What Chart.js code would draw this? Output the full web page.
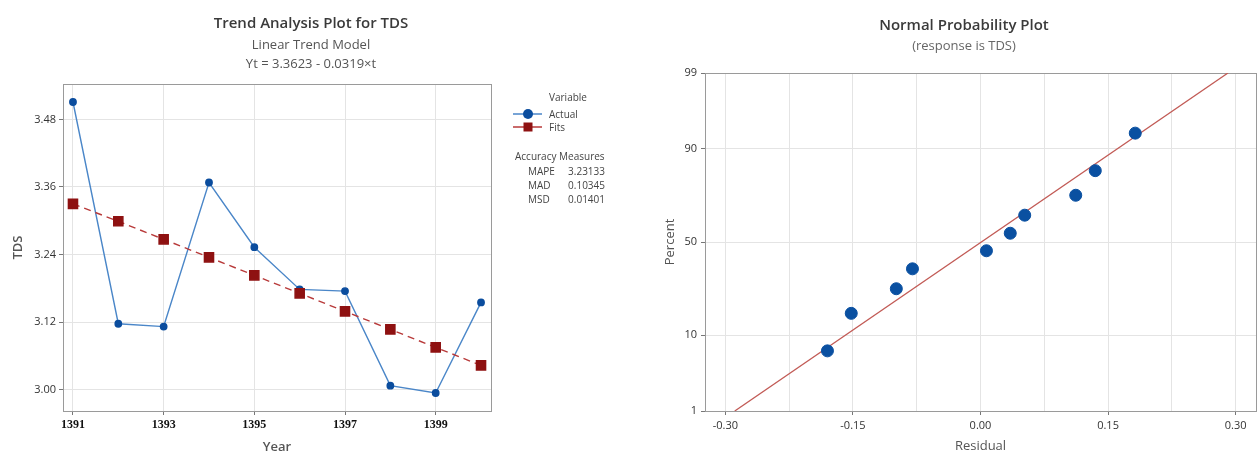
<!DOCTYPE html>
<html>
<head>
<meta charset="utf-8">
<script src="https://cdn.jsdelivr.net/npm/chart.js@4.4.1/dist/chart.umd.min.js"></script>
<style>
  html, body { margin: 0; padding: 0; background: #fff; overflow: hidden; }
  #wrap { position: relative; width: 1259px; height: 456px; overflow: hidden; }
  #trend { position: absolute; left: 0; top: 0; }
  #prob { position: absolute; left: 640px; top: 0; }
</style>
</head>
<body>
<div id="wrap">
  <canvas id="trend" width="640" height="456"></canvas>
  <canvas id="prob" width="623" height="456"></canvas>
</div>
<script>
// ---- data ----
const years = [1391, 1392, 1393, 1394, 1395, 1396, 1397, 1398, 1399, 1400];
const tdsActual = [3.511, 3.117, 3.112, 3.368, 3.253, 3.178, 3.175, 3.007, 2.994, 3.155];
const tdsFits = [3.330, 3.299, 3.267, 3.235, 3.203, 3.171, 3.139, 3.107, 3.075, 3.043];
const yearTicks = [1391, 1393, 1395, 1397, 1399];
const tdsTicks = [3.00, 3.12, 3.24, 3.36, 3.48];
const accuracyNames = ['MAPE', 'MAD', 'MSD'];
const accuracyValues = ['3.23133', '0.10345', '0.01401'];

const residuals = [-0.180, -0.152, -0.099, -0.080, 0.007, 0.035, 0.052, 0.112, 0.135, 0.182];
const percents = [6.7, 16.3, 26.0, 35.6, 45.2, 54.8, 64.4, 74.0, 83.7, 93.3];
const fitResiduals = [-0.289, 0.291];
const fitPercents = [1, 99];
const residualTicks = [-0.30, -0.225, -0.15, -0.075, 0.00, 0.075, 0.15, 0.225, 0.30];
const residualLabels = [-0.30, -0.15, 0.00, 0.15, 0.30];
const percentTicks = [1, 10, 50, 90, 99];

const FONT = '"Open Sans", "Noto Sans", sans-serif';
Chart.defaults.font.family = FONT;
Chart.defaults.color = '#333';

// inverse normal cdf (Acklam) for the probability axis
function normInv(p) {
  const a = [-3.969683028665376e+01, 2.209460984245205e+02, -2.759285104469687e+02, 1.383577518672690e+02, -3.066479806614716e+01, 2.506628277459239e+00];
  const b = [-5.447609879822406e+01, 1.615858368580409e+02, -1.556989798598866e+02, 6.680131188771972e+01, -1.328068155288572e+01];
  const c = [-7.784894002430293e-03, -3.223964580411365e-01, -2.400758277161838e+00, -2.549732539343734e+00, 4.374664141464968e+00, 2.938163982698783e+00];
  const d = [7.784695709041462e-03, 3.224671290700398e-01, 2.445134137142996e+00, 3.754408661907416e+00];
  const pl = 0.02425;
  let q, r;
  if (p < pl) {
    q = Math.sqrt(-2 * Math.log(p));
    return (((((c[0]*q+c[1])*q+c[2])*q+c[3])*q+c[4])*q+c[5]) / ((((d[0]*q+d[1])*q+d[2])*q+d[3])*q+1);
  }
  if (p > 1 - pl) {
    q = Math.sqrt(-2 * Math.log(1 - p));
    return -(((((c[0]*q+c[1])*q+c[2])*q+c[3])*q+c[4])*q+c[5]) / ((((d[0]*q+d[1])*q+d[2])*q+d[3])*q+1);
  }
  q = p - 0.5; r = q * q;
  return (((((a[0]*r+a[1])*r+a[2])*r+a[3])*r+a[4])*r+a[5])*q / (((((b[0]*r+b[1])*r+b[2])*r+b[3])*r+b[4])*r+1);
}
function normCdf(z) {
  const t = 1 / (1 + 0.2316419 * Math.abs(z));
  const y = 0.3989423 * Math.exp(-z * z / 2) * t * (0.3193815 + t * (-0.3565638 + t * (1.781478 + t * (-1.821256 + t * 1.330274))));
  return z > 0 ? 1 - y : y;
}

class ProbabilityScale extends Chart.LinearScale {
  static id = 'probability';
  determineDataLimits() {
    this.min = this.options.min;
    this.max = this.options.max;
  }
  buildTicks() {
    return percentTicks.map(v => ({ value: v }));
  }
  getPixelForValue(value) {
    const z0 = normInv(this.min / 100), z1 = normInv(this.max / 100);
    return this.getPixelForDecimal((normInv(value / 100) - z0) / (z1 - z0));
  }
  getValueForPixel(pixel) {
    const z0 = normInv(this.min / 100), z1 = normInv(this.max / 100);
    return 100 * normCdf(z0 + this.getDecimalForPixel(pixel) * (z1 - z0));
  }
}
Chart.register(ProbabilityScale);

// titles drawn above each panel
function headings(x, lines) {
  return {
    id: 'headings',
    afterDraw(chart) {
      const ctx = chart.ctx;
      ctx.save();
      ctx.textAlign = 'center';
      ctx.textBaseline = 'middle';
      lines.forEach(l => {
        ctx.font = l.font;
        ctx.fillStyle = l.color;
        ctx.fillText(l.text, x, l.y);
      });
      ctx.restore();
    }
  };
}

// box round the plot area
const frame = {
  id: 'frame',
  beforeDatasetsDraw(chart) {
    const { ctx, chartArea: a } = chart;
    ctx.save();
    ctx.strokeStyle = '#9a9a9a';
    ctx.lineWidth = 1;
    ctx.strokeRect(Math.round(a.left) + 0.5, Math.round(a.top) + 0.5,
      Math.round(a.right - a.left), Math.round(a.bottom - a.top));
    ctx.restore();
  }
};

// Minitab style legend with accuracy measures
const trendLegend = {
  id: 'trendLegend',
  afterDraw(chart) {
    const ctx = chart.ctx;
    const sets = chart.data.datasets;
    ctx.save();
    ctx.textBaseline = 'middle';
    ctx.textAlign = 'left';
    ctx.font = '10px ' + FONT;
    ctx.fillStyle = '#444';
    ctx.fillText('Variable', 549, 98);
    const rows = [114, 127];
    sets.forEach((ds, i) => {
      const y = rows[i];
      ctx.strokeStyle = ds.borderColor;
      ctx.lineWidth = 1.5;
      ctx.setLineDash([]);
      ctx.beginPath();
      ctx.moveTo(513, y);
      ctx.lineTo(542, y);
      ctx.stroke();
      ctx.fillStyle = ds.pointBackgroundColor;
      ctx.beginPath();
      if (ds.pointStyle === 'rect') ctx.rect(523.5, y - 4.5, 9, 9);
      else ctx.arc(528, y, 5, 0, Math.PI * 2);
      ctx.fill();
      ctx.fillStyle = '#444';
      ctx.fillText(ds.label, 549, y + 1);
    });
    ctx.fillText('Accuracy Measures', 515, 157);
    accuracyNames.forEach((n, i) => {
      const y = 172 + i * 14;
      ctx.textAlign = 'left';
      ctx.fillText(n, 528, y);
      ctx.textAlign = 'right';
      ctx.fillText(accuracyValues[i], 605, y);
    });
    ctx.restore();
  }
};

new Chart(document.getElementById('trend'), {
  type: 'line',
  data: {
    labels: years,
    datasets: [{
      label: 'Actual',
      data: tdsActual,
      borderColor: '#4a86c8',
      borderWidth: 1.4,
      pointBackgroundColor: '#0b4d9e',
      pointBorderColor: '#0b4d9e',
      pointRadius: 3.2,
      pointStyle: 'circle',
      tension: 0,
      order: 1
    }, {
      label: 'Fits',
      data: tdsFits,
      borderColor: '#b83a3a',
      borderWidth: 1.4,
      borderDash: [7, 5],
      pointBackgroundColor: '#8e1111',
      pointBorderColor: '#8e1111',
      pointRadius: 6.5,
      pointStyle: 'rect',
      tension: 0,
      order: 0
    }]
  },
  options: {
    responsive: false,
    animation: false,
    layout: { padding: { top: 84, right: 149, bottom: 0, left: 0 } },
    plugins: { legend: { display: false }, tooltip: { enabled: false } },
    scales: {
      x: {
        type: 'linear',
        min: 1390.78,
        max: 1400.22,
        afterBuildTicks: s => { s.ticks = yearTicks.map(v => ({ value: v })); },
        afterFit: s => { s.height = 45; },
        grid: { color: '#e4e4e4', tickColor: '#777', tickLength: 4 },
        border: { display: false },
        ticks: {
          autoSkip: false, maxRotation: 0, padding: 3,
          color: '#111',
          font: { family: '"Liberation Serif", serif', size: 12, weight: 'bold' },
          callback: v => String(v)
        },
        title: { display: true, text: 'Year', color: '#555', font: { size: 13, weight: '600' }, padding: { top: 0, bottom: 1 } }
      },
      y: {
        min: 2.962,
        max: 3.543,
        afterBuildTicks: s => { s.ticks = tdsTicks.map(v => ({ value: v })); },
        afterFit: s => { s.width = 63; },
        grid: { color: '#e4e4e4', tickColor: '#777', tickLength: 4 },
        border: { display: false },
        ticks: { padding: 3, color: '#333', font: { size: 11 }, callback: v => v.toFixed(2) },
        title: { display: true, text: 'TDS', color: '#555', font: { size: 13, weight: '600' }, padding: { top: 10, bottom: 0 } }
      }
    }
  },
  plugins: [frame, trendLegend, headings(311, [
    { text: 'Trend Analysis Plot for TDS', y: 24, font: '600 15px ' + FONT, color: '#3a3a3a' },
    { text: 'Linear Trend Model', y: 45, font: '13px ' + FONT, color: '#555' },
    { text: 'Yt = 3.3623 - 0.0319×t', y: 64, font: '13px ' + FONT, color: '#555' }
  ])]
});

new Chart(document.getElementById('prob'), {
  type: 'scatter',
  data: {
    datasets: [{
      label: 'Residuals',
      data: residuals.map((r, i) => ({ x: r, y: percents[i] })),
      backgroundColor: '#0a50a1',
      borderColor: '#0a50a1',
      pointRadius: 6,
      showLine: false
    }, {
      label: 'Normal fit',
      data: fitResiduals.map((r, i) => ({ x: r, y: fitPercents[i] })),
      borderColor: '#c25b56',
      borderWidth: 1.3,
      pointRadius: 0,
      showLine: true
    }]
  },
  options: {
    responsive: false,
    animation: false,
    layout: { padding: { top: 73, right: 0, bottom: 0, left: 0 } },
    plugins: { legend: { display: false }, tooltip: { enabled: false } },
    scales: {
      x: {
        type: 'linear',
        min: -0.324,
        max: 0.324,
        afterBuildTicks: s => { s.ticks = residualTicks.map(v => ({ value: v })); },
        afterFit: s => { s.height = 45; },
        grid: {
          color: '#e4e4e4', tickLength: 4,
          tickColor: c => residualLabels.some(v => Math.abs(v - c.tick.value) < 1e-9) ? '#777' : 'rgba(0,0,0,0)'
        },
        border: { display: false },
        ticks: {
          autoSkip: false, maxRotation: 0, padding: 4, color: '#333', font: { size: 11 },
          callback: v => residualLabels.some(l => Math.abs(l - v) < 1e-9) ? v.toFixed(2) : ''
        },
        title: { display: true, text: 'Residual', color: '#555', font: { size: 13 }, padding: { top: 0, bottom: 2 } }
      },
      y: {
        type: 'probability',
        min: 1,
        max: 99,
        afterFit: s => { s.width = 65; },
        grid: { color: '#e4e4e4', tickColor: '#777', tickLength: 4 },
        border: { display: false },
        ticks: { padding: 4, color: '#333', font: { size: 11 }, callback: v => String(v) },
        title: { display: true, text: 'Percent', color: '#555', font: { size: 13 }, padding: { top: 22, bottom: 0 } }
      }
    }
  },
  plugins: [frame, headings(324, [
    { text: 'Normal Probability Plot', y: 26, font: '600 15px ' + FONT, color: '#3a3a3a' },
    { text: '(response is TDS)', y: 46, font: '13px ' + FONT, color: '#666' }
  ])]
});
</script>
</body>
</html>
